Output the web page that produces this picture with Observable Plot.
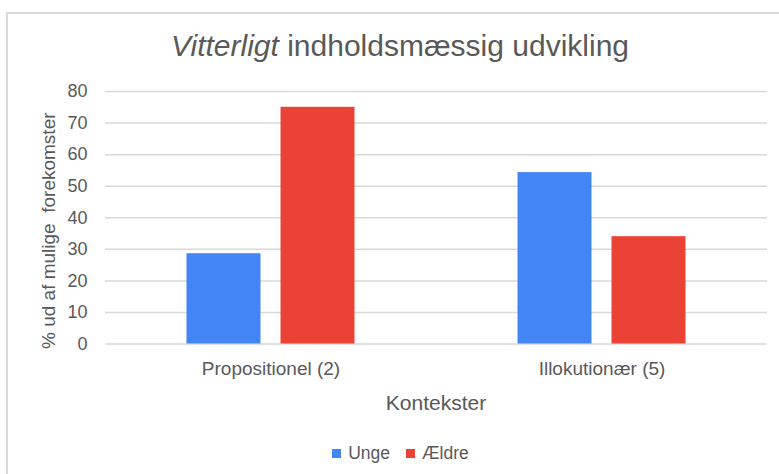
<!DOCTYPE html>
<html>
<head>
<meta charset="utf-8">
<script src="https://cdn.jsdelivr.net/npm/d3@7"></script>
<script src="https://cdn.jsdelivr.net/npm/@observablehq/plot@0.6"></script>
<style>
  html, body { margin: 0; padding: 0; background: #fff; }
  body { font-family: "Liberation Sans", Arial, sans-serif; color: #595959; }
  #wrap { position: relative; width: 779px; height: 474px; overflow: hidden; }
  #border { position: absolute; left: 6px; top: 12px; width: 800px; height: 500px; border: 2px solid #d9d9d9; box-sizing: border-box; }
  #title { position: absolute; left: 0; top: 29px; width: 800px; text-align: center; font-size: 30px; line-height: 34px; color: #595959; }
  #xlabel { position: absolute; left: 0; top: 391px; width: 872px; text-align: center; font-size: 21px; line-height: 24px; color: #595959; }
  #legend { position: absolute; left: 0; top: 443px; width: 801px; display: flex; justify-content: center; font-size: 17.5px; line-height: 20px; color: #595959; }
  #legend .item { display: flex; align-items: center; margin: 0 8px; }
  #legend .sw { display: inline-block; width: 9px; height: 9px; margin-right: 7px; }
  #chart { position: absolute; left: 0; top: 0; }
  svg text { white-space: pre; }
</style>
</head>
<body>
<div id="wrap">
  <div id="border"></div>
  <div id="chart"></div>
  <div id="title"><i>Vitterligt</i> indholdsmæssig udvikling</div>
  <div id="xlabel"></div>
  <div id="legend"></div>
</div>
<script>
const categories = ["Propositionel (2)", "Illokutionær (5)"];
const seriesNames = ["Unge", "Ældre"];
const ungeValues = [28.6, 54.3];
const aeldreValues = [75, 34];
const seriesColors = ["#4285F4", "#EA4335"];
const yTicks = [0, 10, 20, 30, 40, 50, 60, 70, 80];
const xTitle = "Kontekster";
const yTitle = "% ud af mulige  forekomster";

const rows = [];
categories.forEach((c, i) => {
  rows.push({category: c, series: seriesNames[0], value: ungeValues[i]});
  rows.push({category: c, series: seriesNames[1], value: aeldreValues[i]});
});

const textColor = "#595959";
const plot = Plot.plot({
  width: 779,
  height: 474,
  marginTop: 91,
  marginBottom: 130.5,
  marginLeft: 105,
  marginRight: 12,
  style: {background: "transparent", fontFamily: "Liberation Sans, Arial, sans-serif", color: textColor},
  fx: {domain: categories, padding: 0, axis: null},
  x: {domain: seriesNames, paddingInner: 0.213, paddingOuter: 0.867, round: false, axis: null},
  y: {domain: [0, 80], axis: null},
  color: {domain: seriesNames, range: seriesColors},
  marks: [
    Plot.gridY(yTicks, {stroke: "#d9d9d9", strokeOpacity: 1, strokeWidth: 1.5}),
    Plot.barY(rows, {fx: "category", x: "series", y: "value", fill: "series"}),
    Plot.axisY(yTicks, {tickSize: 0, tickPadding: 18, fontSize: 18, label: null, fill: textColor}),
    Plot.axisFx({anchor: "bottom", tickSize: 0, tickPadding: 17, fontSize: 19, label: null, fill: textColor}),
    Plot.text([yTitle], {frameAnchor: "left", textAnchor: "middle", lineAnchor: "middle", rotate: -90, dx: -57, dy: 13, facet: "super", fontSize: 19, fill: textColor})
  ]
});
document.getElementById("chart").appendChild(plot);
document.getElementById("xlabel").textContent = xTitle;

const legend = document.getElementById("legend");
seriesNames.forEach((s, i) => {
  const item = document.createElement("span");
  item.className = "item";
  const sw = document.createElement("span");
  sw.className = "sw";
  sw.style.background = seriesColors[i];
  item.appendChild(sw);
  item.appendChild(document.createTextNode(s));
  legend.appendChild(item);
});
</script>
</body>
</html>
